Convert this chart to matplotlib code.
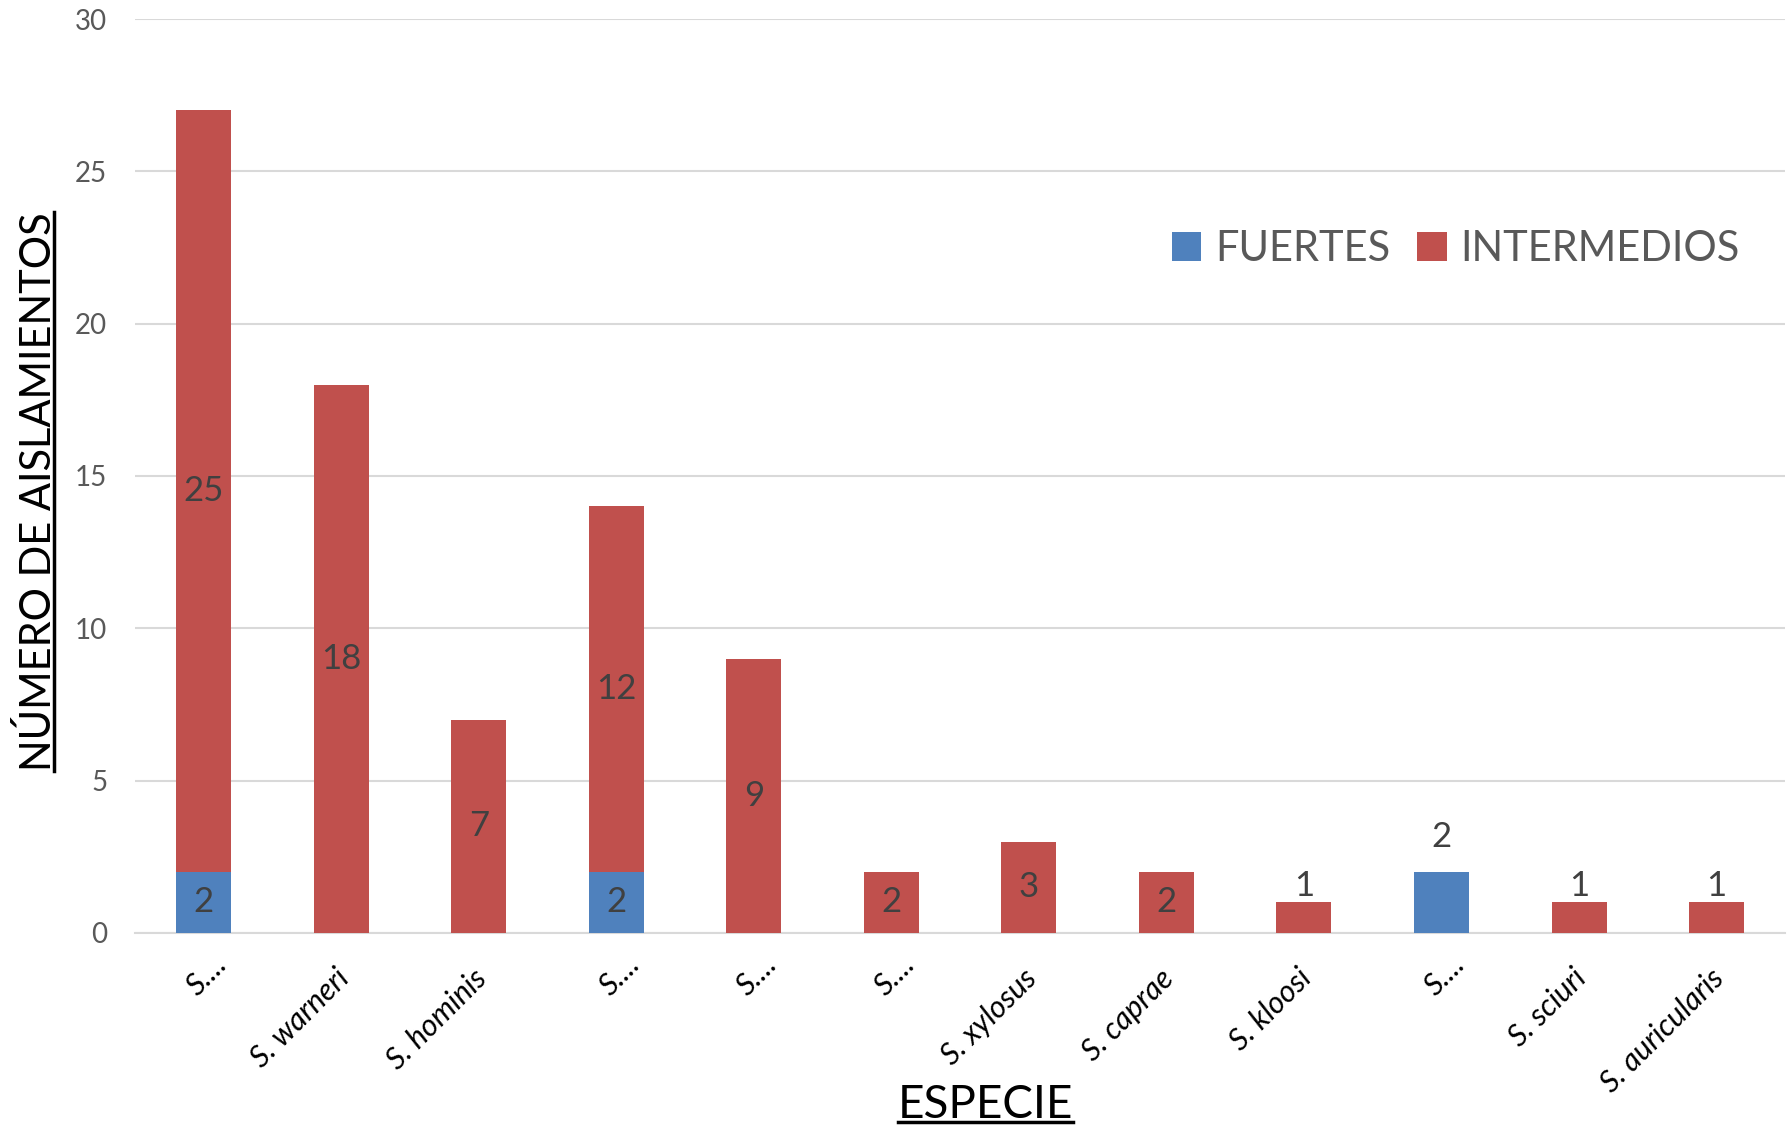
import matplotlib
matplotlib.use("Agg")
import matplotlib.pyplot as plt
import matplotlib.transforms as mtransforms
from matplotlib.lines import Line2D
import numpy as np

especies = ["S....", "S. warneri", "S. hominis", "S....", "S....", "S....",
            "S. xylosus", "S. caprae", "S. kloosi", "S....", "S. sciuri",
            "S. auricularis"]
fuertes = [2, 0, 0, 2, 0, 0, 0, 0, 0, 2, 0, 0]
intermedios = [25, 18, 7, 12, 9, 2, 3, 2, 1, 0, 1, 1]

AZUL = "#4F81BD"
ROJO = "#C0504D"
GRIS = "#595959"
FUENTE = "Lato"

plt.rcParams["font.family"] = [FUENTE, "DejaVu Sans"]

fig = plt.figure(figsize=(17.88, 11.25), dpi=100)
ax = fig.add_axes([0.0755, 0.1707, 0.923, 0.8124])

x = np.arange(len(especies))
ancho = 0.4
b1 = ax.bar(x, fuertes, ancho, color=AZUL, label="FUERTES", zorder=3)
b2 = ax.bar(x, intermedios, ancho, bottom=fuertes, color=ROJO,
            label="INTERMEDIOS", zorder=3)

# etiquetas de valor: dentro del segmento si cabe, encima si no
for i in range(len(especies)):
    f, m = fuertes[i], intermedios[i]
    if f > 0:
        if m > 0:
            ax.text(x[i], f / 2, str(f), ha="center", va="center",
                    fontsize=25, color="#404040", zorder=4)
        else:
            ax.annotate(str(f), (x[i], f), xytext=(0, 14),
                        textcoords="offset points", ha="center",
                        va="bottom", fontsize=25, color="#404040")
    if m > 1:
        ax.text(x[i], f + m / 2, str(m), ha="center", va="center",
                fontsize=25, color="#404040", zorder=4)
    elif m == 1:
        ax.annotate(str(m), (x[i], f + m), xytext=(0, 0),
                    textcoords="offset points", ha="center",
                    va="bottom", fontsize=25, color="#404040")

ax.set_xlim(-0.5, len(especies) - 0.5)
ax.set_ylim(0, 30)
ax.set_yticks(range(0, 31, 5))
ax.yaxis.grid(True, color="#D9D9D9", linewidth=1.5, zorder=0)
ax.set_axisbelow(True)
for lado in ["top", "right", "left"]:
    ax.spines[lado].set_visible(False)
ax.spines["bottom"].set_color("#D9D9D9")
ax.spines["bottom"].set_linewidth(1.5)
ax.tick_params(axis="both", length=0)
ax.tick_params(axis="y", labelsize=20, labelcolor=GRIS, pad=20)

ax.set_xticks(x)
ax.set_xticklabels(especies, rotation=45, ha="right", va="center",
                   rotation_mode="anchor", fontsize=22, style="italic",
                   color="black")
# los nombres truncados quedan algo más arriba que los completos
for t in ax.get_xticklabels():
    if t.get_text().endswith("...."):
        dx, dy = 0.19, -0.22
    else:
        dx, dy = 0.03, -0.36
    t.set_transform(t.get_transform() +
                    mtransforms.ScaledTranslation(dx, dy, fig.dpi_scale_trans))

leg = ax.legend(loc="upper right", bbox_to_anchor=(0.995, 0.81), ncol=2,
                frameon=False, fontsize=30, handlelength=0.7,
                handleheight=0.7, handletextpad=0.33, columnspacing=0.65,
                labelcolor=GRIS)

# títulos de los ejes, subrayados bajo la línea base
ylab_x, ylab_y = 0.0287, 0.563
fig.text(ylab_x, ylab_y, "NÚMERO DE AISLAMIENTOS", rotation=90,
         rotation_mode="anchor", ha="center", va="baseline", fontsize=30,
         color="black")
xlab_x, xlab_y = 0.551, 0.006
xlab = fig.text(xlab_x, xlab_y, "ESPECIE", ha="center", va="baseline",
                fontsize=33, color="black")

fig.canvas.draw()
rend = fig.canvas.get_renderer()
inv = fig.transFigure.inverted()
bb = xlab.get_window_extent(rend)
(x0, _), (x1, _) = inv.transform([[bb.x0, bb.y0], [bb.x1, bb.y1]])
fig.add_artist(Line2D([x0, x1], [xlab_y - 0.003, xlab_y - 0.003],
                      color="black", linewidth=2.5,
                      transform=fig.transFigure))
ylab = fig.texts[0]
bb = ylab.get_window_extent(rend)
(_, y0), (_, y1) = inv.transform([[bb.x0, bb.y0], [bb.x1, bb.y1]])
fig.add_artist(Line2D([ylab_x + 0.0015, ylab_x + 0.0015], [y0, y1],
                      color="black", linewidth=2.5,
                      transform=fig.transFigure))

fig.savefig("out.png", dpi=100, facecolor="white")
